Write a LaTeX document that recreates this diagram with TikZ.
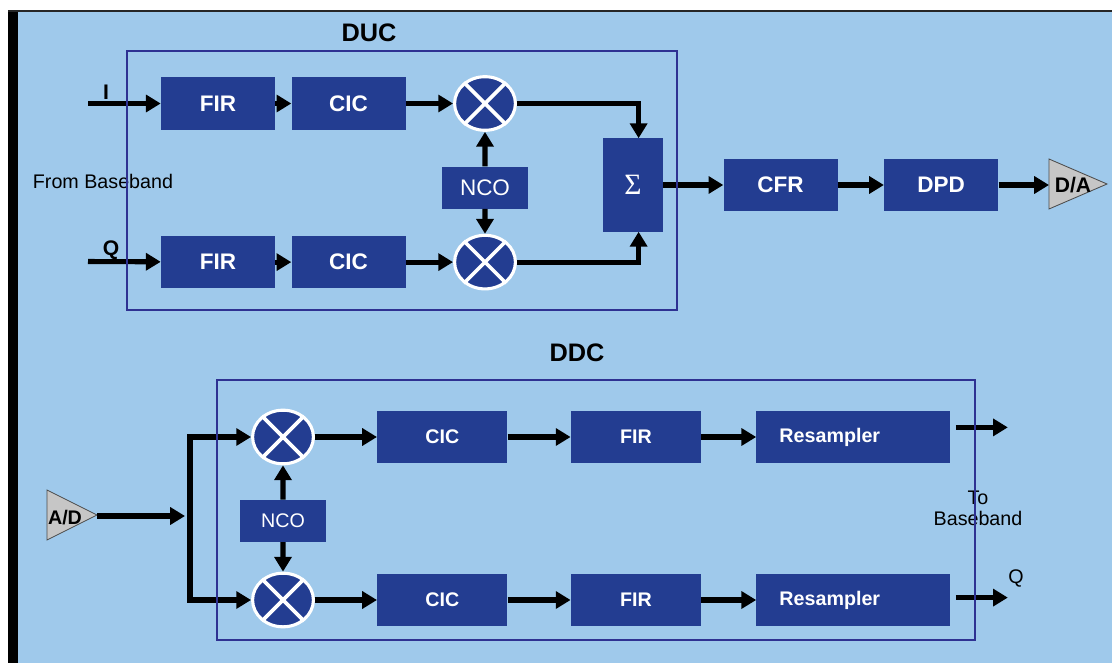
\documentclass[tikz,border=0pt]{standalone}
\usepackage{fontspec}
\setmainfont{Liberation Sans}
\newfontfamily\sigmafont{Liberation Serif}
\usetikzlibrary{shapes.geometric,positioning,calc,arrows.meta}

\definecolor{panel}{HTML}{9FC9EB}
\definecolor{blockblue}{HTML}{233D91}
\definecolor{frameblue}{HTML}{2E3192}
\definecolor{convgray}{HTML}{C6C6C6}

\begin{document}
\begin{tikzpicture}[x=0.025cm,y=-0.025cm,
    sig/.style={-{Triangle[length=10.5pt,width=12pt]},line width=3.6pt},
    bus/.style={line width=3.6pt,line cap=rect},
    block/.style={rectangle,fill=blockblue,draw=none,text=white,inner sep=0pt,
                  minimum width=2.85cm,minimum height=1.3cm,
                  font=\bfseries\fontsize{16}{19}\selectfont},
    ddcblock/.style={block,minimum width=3.25cm,font=\bfseries\fontsize{14}{17}\selectfont},
    resblock/.style={ddcblock,minimum width=4.825cm,minimum height=1.275cm,
                  text width=3.675cm,inner xsep=0.575cm,align=left},
    ncoblock/.style={block,minimum width=2.125cm,minimum height=1.05cm,
                  font=\fontsize{16}{19}\selectfont},
    mixer/.style={ellipse,fill=blockblue,draw=white,line width=2.2pt,inner sep=0pt,
                  minimum width=1.52cm,minimum height=1.34cm},
    cross/.style={white,line width=2.6pt},
    conv/.style={fill=convgray,draw=black!70,line width=0.6pt},
    convtxt/.style={font=\bfseries\fontsize{15}{18}\selectfont},
    frame/.style={draw=frameblue,line width=1.4pt},
    title/.style={font=\bfseries\fontsize{18}{21}\selectfont},
    lbl/.style={font=\fontsize{14}{15}\selectfont}]

  % canvas
  \useasboundingbox (0,0) rectangle (1112,663);
  \fill[white] (0,0) rectangle (1112,663);
  \fill[black] (8,10) rectangle (18,663);
  \fill[black!85] (8,10) rectangle (1112,12.5);
  \fill[panel] (18,12.5) rectangle (1112,663);

  % DUC
  \node[block] (firI) at (218,103.5) {FIR};
  \node[block] (cicI) [right=0.4cm of firI] {CIC};
  \node[mixer] (mixI) at (485,103.5) {};
  \node[block] (firQ) [below=2.65cm of firI] {FIR};
  \node[block] (cicQ) [right=0.4cm of firQ] {CIC};
  \node[mixer] (mixQ) at (mixI |- cicQ) {};
  \node[ncoblock] (ncoU) at ($(mixI)!0.53!(mixQ)$) {NCO};
  \node[block,minimum width=1.5cm,minimum height=2.325cm,
        font=\sigmafont\fontsize{21}{24}\selectfont] (sum) at (633,185) {Σ};
  \node[block] (cfr) [right=1.5cm of sum] {CFR};
  \node[block] (dpd) [right=1.15cm of cfr] {DPD};
  \draw[conv] (1049,159) -- (1107,184) -- (1049,209) -- cycle;
  \node[convtxt] (daTxt) at (1073,185) {D/A};
  \coordinate (daIn) at (1049,185);

  \coordinate (inI) at (88,103.5);
  \coordinate (inQ) at (88,261.5);
  \node[font=\bfseries\fontsize{15}{18}\selectfont] (lblI) at (106,92) {I};
  \node[font=\bfseries\fontsize{15}{18}\selectfont] (lblQ) at (111,250) {Q};
  \node[lbl,anchor=west] (fromBB) at (28,181) {From Baseband};

  \path[sig] (inI) edge (firI)
             (firI) edge (cicI)
             (cicI) edge (mixI)
             (inQ) edge (firQ)
             (firQ) edge (cicQ)
             (cicQ) edge (mixQ)
             (ncoU) edge (mixI)
             (ncoU) edge (mixQ)
             (sum) edge (cfr)
             (cfr) edge (dpd)
             (dpd) edge (daIn);
  \draw[sig] (mixI) -| ([xshift=4pt]sum.north);
  \draw[sig] (mixQ) -| ([xshift=4pt]sum.south);

  % DDC
  \node[mixer] (mixA) at (283,437) {};
  \node[ddcblock] (cicA) [right=1.55cm of mixA] {CIC};
  \node[ddcblock] (firA) [right=1.575cm of cicA] {FIR};
  \node[resblock] (resA) [right=1.375cm of firA] {Resampler};
  \node[mixer] (mixB) at (283,600) {};
  \node[ddcblock] (cicB) [right=1.55cm of mixB] {CIC};
  \node[ddcblock] (firB) [right=1.575cm of cicB] {FIR};
  \node[resblock] (resB) [right=1.375cm of firB] {Resampler};
  \node[ncoblock,minimum width=2.15cm,font=\fontsize{14}{17}\selectfont]
        (ncoD) at ($(mixA)!0.515!(mixB)$) {NCO};
  \draw[conv] (47,490) -- (97,515) -- (47,540) -- cycle;
  \node[convtxt,font=\bfseries\fontsize{14}{17}\selectfont] (adTxt) at (65,518) {A/D};

  \coordinate (adOut) at (97,516);
  \coordinate (split) at (185,516);
  \coordinate (busT) at (190,437);
  \coordinate (busB) at (190,600);
  \coordinate (outI) at ([shift={(1.45cm,0.24cm)}]resA.east);
  \coordinate (outQ) at ([shift={(1.45cm,0.06cm)}]resB.east);
  \node[lbl] (lblQo) at (1016,578) {Q};
  \node[lbl,align=center] (toBB) at (978,508) {To\\Baseband};

  \draw[bus] (busT) -- (busB);
  \path[sig] (adOut) edge (split)
             (busT) edge (mixA)
             (busB) edge (mixB)
             (mixA) edge (cicA)
             (cicA) edge (firA)
             (firA) edge (resA)
             (mixB) edge (cicB)
             (cicB) edge (firB)
             (firB) edge (resB)
             (ncoD) edge (mixA)
             (ncoD) edge (mixB)
             ([shift={(0.15cm,0.24cm)}]resA.east) edge (outI)
             ([shift={(0.15cm,0.06cm)}]resB.east) edge (outQ);

  % mixer crosses
  \foreach \m in {mixI,mixQ,mixA,mixB}
    \draw[cross] (\m.45) -- (\m.225) (\m.135) -- (\m.315);

  % frames
  \draw[frame] (127,51) rectangle (677,310);
  \node[title] (duc) at (369,33) {DUC};
  \draw[frame] (217,380) rectangle (975,640);
  \node[title] (ddc) at (577,353) {DDC};
\end{tikzpicture}
\end{document}
